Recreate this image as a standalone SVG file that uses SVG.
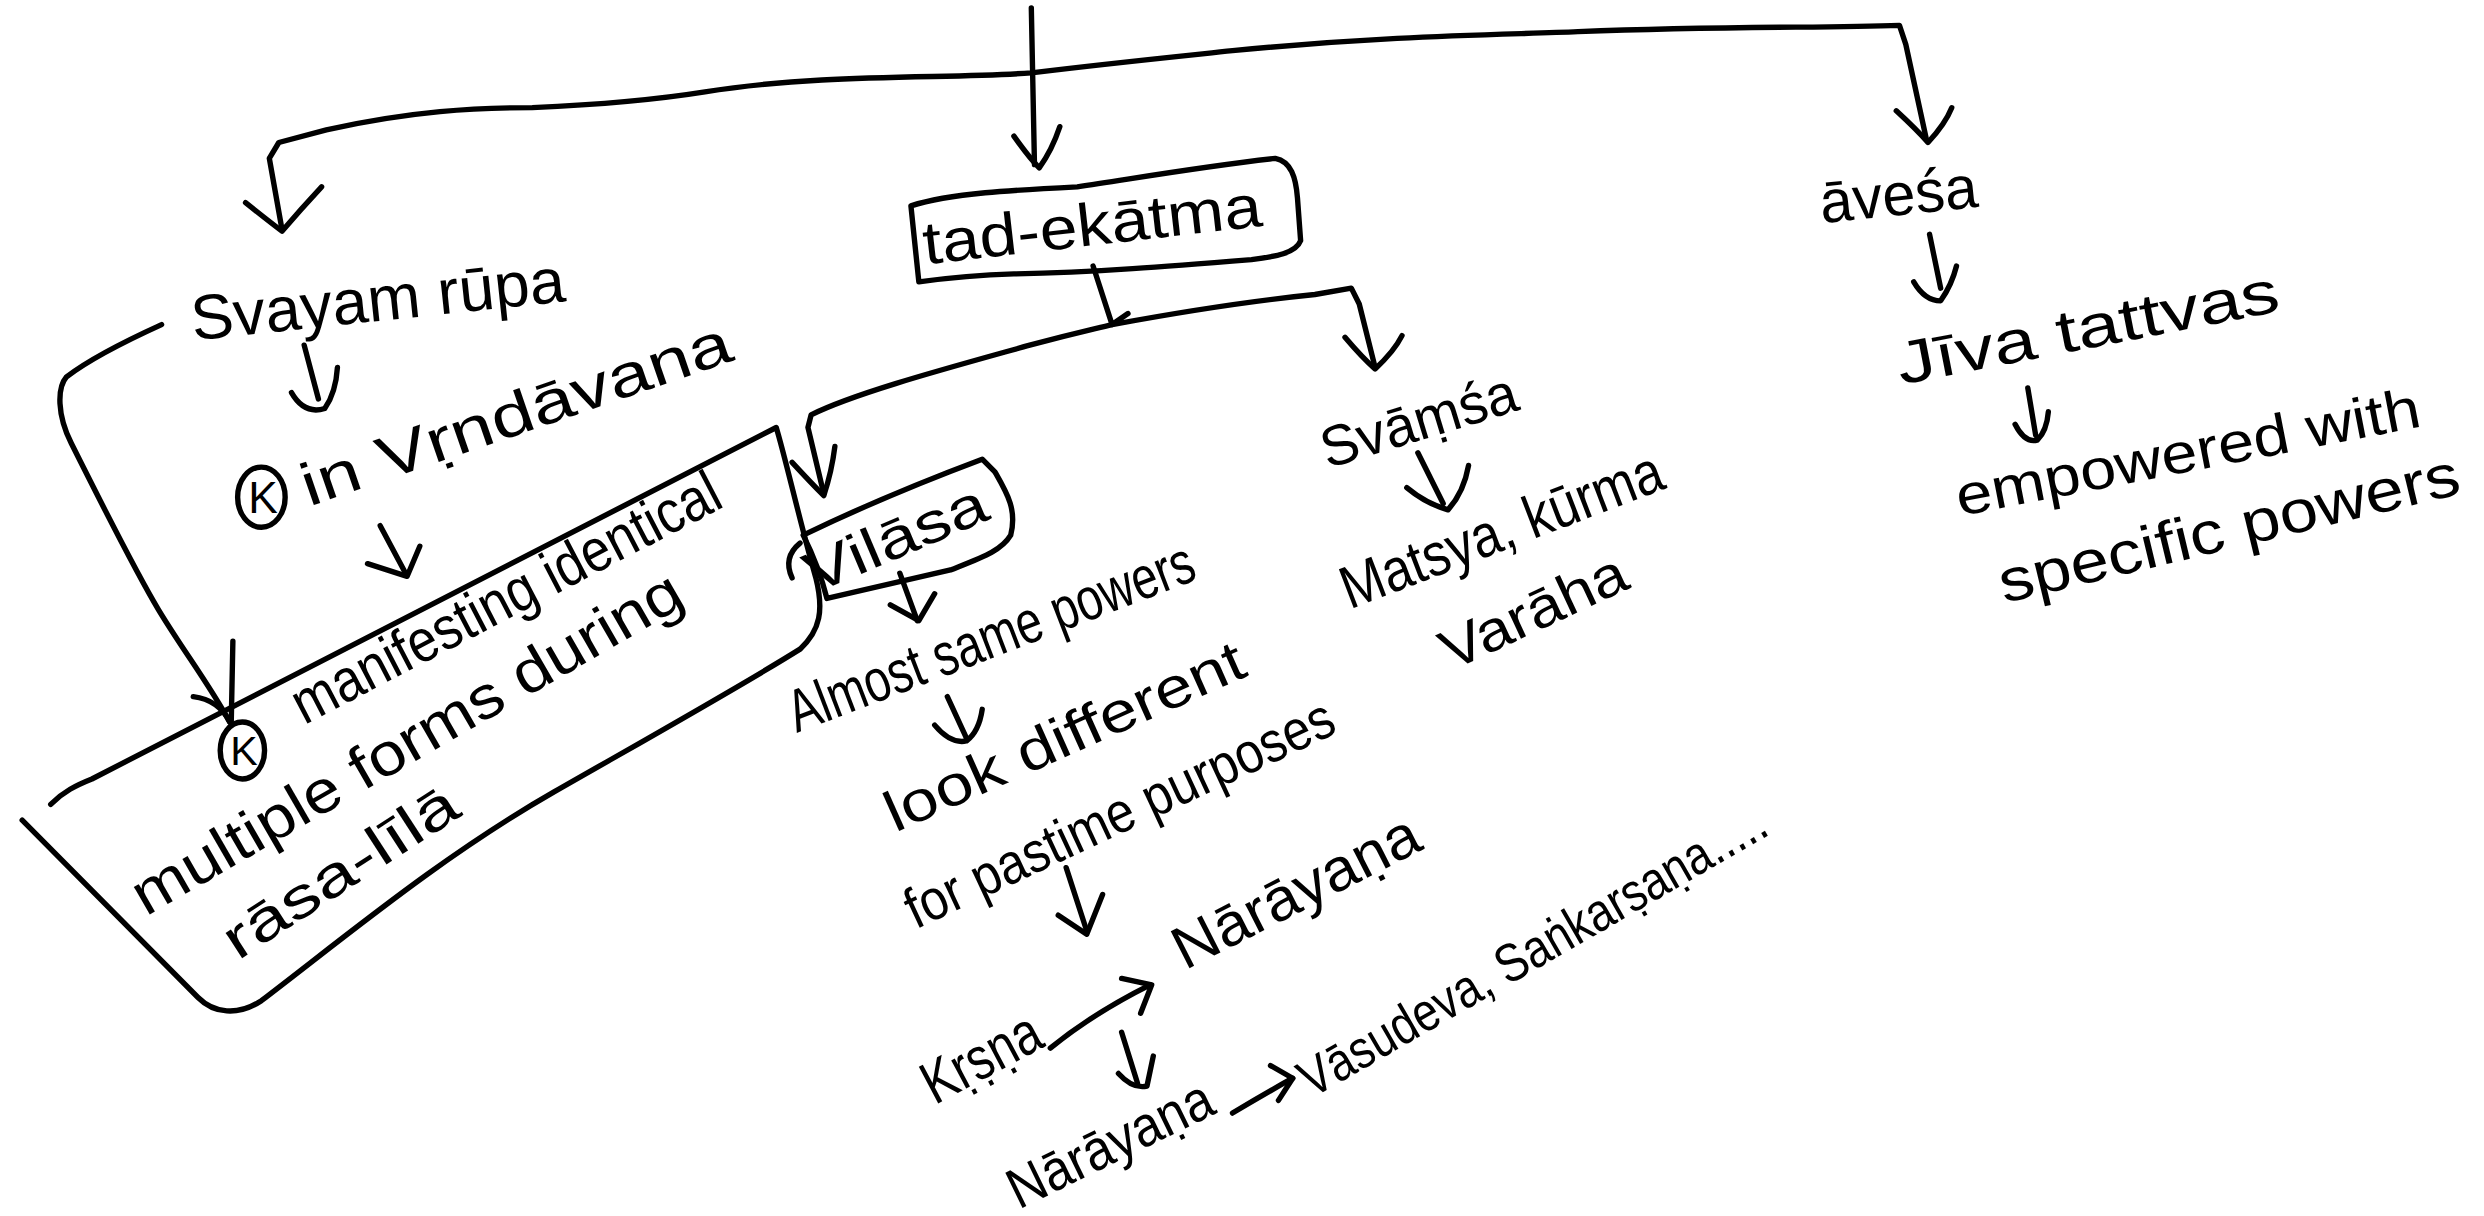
<svg xmlns="http://www.w3.org/2000/svg" width="2484" height="1216" viewBox="0 0 2484 1216">
<style>
.ln{fill:none;stroke:#000;stroke-width:3.4;stroke-linecap:round;stroke-linejoin:round}
.tx{font-family:"Liberation Sans","DejaVu Sans",sans-serif;fill:#000}
</style>
<rect width="2484" height="1216" fill="#fff"/>
<g transform="scale(1.5842,1.5833)">
<g id="connectors">
  <path class="ln" d="M651,5 L653,104"/>
  <path class="ln" d="M640,86 Q650,100 656,106 Q664,95 669,80"/>
  <path class="ln" d="M178,145 L170,100 L176,90 L206,82 C260,70 300,68 336,68 C380,66 420,62 445,58 C520,46 600,50 651,46 C700,40 740,36 778,32 C880,22 950,22 996,20 C1100,16 1150,18 1199,16 L1203,28 L1216,88"/>
  <path class="ln" d="M155,128 Q170,140 178,146 Q190,132 203,118"/>
  <path class="ln" d="M1197,70 Q1210,82 1217,90 Q1228,78 1232,68"/>
  <path class="ln" d="M192,218 L201,252"/>
  <path class="ln" d="M184,248 Q192,262 205,258 Q212,248 213,232"/>
  <path class="ln" d="M240,332 L256,362"/>
  <path class="ln" d="M232,356 L257,364 L265,345"/>
  <path class="ln" d="M102,205 C80,215 55,228 42,238 C36,245 36,262 45,280 C60,310 85,360 100,385 C115,410 132,432 145,456"/>
  <path class="ln" d="M147,405 L146,455"/>
  <path class="ln" d="M122,440 Q138,442 145,456"/>
  <path class="ln" d="M690,168 L702,205 L712,198"/>
  <path class="ln" d="M520,312 L510,270 L512,262 C540,248 600,232 650,218 C680,210 690,208 702,205 C740,198 790,190 830,186 L853,182 L858,192 L868,232"/>
  <path class="ln" d="M500,292 Q512,305 520,313 Q525,298 527,282"/>
  <path class="ln" d="M849,213 Q860,226 868,233 Q880,222 885,212"/>
  <path class="ln" d="M568,362 L579,392"/>
  <path class="ln" d="M562,382 L580,392 L590,375"/>
  <path class="ln" d="M598,440 L610,466"/>
  <path class="ln" d="M590,458 Q600,470 610,468 Q618,462 620,448"/>
  <path class="ln" d="M673,548 L686,588"/>
  <path class="ln" d="M668,578 L686,590 L696,565"/>
  <path class="ln" d="M663,662 Q690,640 726,622"/>
  <path class="ln" d="M708,618 L727,622 L720,640"/>
  <path class="ln" d="M708,652 L718,684"/>
  <path class="ln" d="M706,678 Q715,688 724,686 L728,667"/>
  <path class="ln" d="M778,703 Q798,691 816,681"/>
  <path class="ln" d="M802,673 L816,681 L807,695"/>
  <path class="ln" d="M895,286 L911,318"/>
  <path class="ln" d="M888,308 Q900,318 914,322 Q924,311 927,294"/>
  <path class="ln" d="M1218,148 L1225,182"/>
  <path class="ln" d="M1208,178 Q1215,190 1225,190 Q1232,180 1235,168"/>
  <path class="ln" d="M1280,245 L1285,275"/>
  <path class="ln" d="M1272,268 Q1278,280 1286,278 Q1292,272 1293,260"/>
</g>
<g id="node-svayam-rupa">
  <text class="tx" font-size="40" transform="translate(122,215) rotate(-6)" textLength="237" lengthAdjust="spacingAndGlyphs">Svayam rūpa</text>
</g>
<g id="node-k-vrndavana">
  <ellipse class="ln" cx="165" cy="314" rx="15" ry="19"/>
  <text class="tx" font-size="28" x="166" y="324" text-anchor="middle">K</text>
  <text class="tx" font-size="38" transform="translate(195,320) rotate(-19)" textLength="285" lengthAdjust="spacingAndGlyphs">in Vṛndāvana</text>
</g>
<g id="node-rasa-lila">
  <path class="ln" d="M32,508 C40,500 48,496 58,492 L490,270 C496,290 505,330 515,365 C520,385 518,398 505,410 C470,432 420,460 350,500 C280,540 220,590 165,632 C150,642 135,640 125,630 L14,518"/>
  <ellipse class="ln" cx="153" cy="474" rx="14" ry="18"/>
  <text class="tx" font-size="26" x="154" y="483" text-anchor="middle">K</text>
  <text class="tx" font-size="38" transform="translate(192,458) rotate(-27.5)" textLength="300" lengthAdjust="spacingAndGlyphs">manifesting identical</text>
  <text class="tx" font-size="38" transform="translate(92,579) rotate(-30)" textLength="395" lengthAdjust="spacingAndGlyphs">multiple forms during</text>
  <text class="tx" font-size="36" transform="translate(150,607) rotate(-33)" textLength="170" lengthAdjust="spacingAndGlyphs">rāsa-līlā</text>
</g>
<g id="node-tad-ekatma">
  <path class="ln" d="M575,130 C600,122 640,120 680,118 C720,112 760,105 805,100 C815,102 818,112 819,125 L821,152 C818,160 805,162 790,164 C740,168 690,172 640,173 C610,174 595,176 580,178 Z"/>
  <text class="tx" font-size="38" transform="translate(584,167) rotate(-6.5)" textLength="215" lengthAdjust="spacingAndGlyphs">tad-ekātma</text>
</g>
<g id="node-vilasa">
  <path class="ln" d="M507,338 C540,322 580,305 620,290 L628,298 C636,312 642,322 638,338 C632,348 620,352 600,360 L522,378 C518,362 512,348 507,338 Z"/>
  <path class="ln" d="M500,365 Q494,352 505,343"/>
  <text class="tx" font-size="36" transform="translate(514,375) rotate(-23)" textLength="122" lengthAdjust="spacingAndGlyphs">Vilāsa</text>
</g>
<g id="node-almost-same">
  <text class="tx" font-size="38" transform="translate(503,463) rotate(-21)" textLength="272" lengthAdjust="spacingAndGlyphs">Almost same powers</text>
</g>
<g id="node-look-different">
  <text class="tx" font-size="36" transform="translate(565,526) rotate(-24)" textLength="245" lengthAdjust="spacingAndGlyphs">look different</text>
</g>
<g id="node-pastime">
  <text class="tx" font-size="36" transform="translate(578,587) rotate(-25)" textLength="295" lengthAdjust="spacingAndGlyphs">for pastime purposes</text>
</g>
<g id="node-krsna">
  <text class="tx" font-size="38" transform="translate(590,698) rotate(-28)" textLength="80" lengthAdjust="spacingAndGlyphs">Kṛṣṇa</text>
</g>
<g id="node-narayana-1">
  <text class="tx" font-size="38" transform="translate(748,613) rotate(-27)" textLength="170" lengthAdjust="spacingAndGlyphs">Nārāyaṇa</text>
</g>
<g id="node-narayana-2">
  <text class="tx" font-size="36" transform="translate(643,764) rotate(-26)" textLength="140" lengthAdjust="spacingAndGlyphs">Nārāyaṇa</text>
</g>
<g id="node-vasudeva">
  <text class="tx" font-size="34" transform="translate(828,694) rotate(-30)" textLength="335" lengthAdjust="spacingAndGlyphs">Vāsudeva, Saṅkarṣaṇa.....</text>
</g>
<g id="node-svamsa">
  <text class="tx" font-size="36" transform="translate(838,296) rotate(-17)" textLength="128" lengthAdjust="spacingAndGlyphs">Svāṃśa</text>
</g>
<g id="node-matsya">
  <text class="tx" font-size="38" transform="translate(852,385) rotate(-21)" textLength="215" lengthAdjust="spacingAndGlyphs">Matsya, kūrma</text>
</g>
<g id="node-varaha">
  <text class="tx" font-size="36" transform="translate(916,424) rotate(-25)" textLength="126" lengthAdjust="spacingAndGlyphs">Varāha</text>
</g>
<g id="node-avesa">
  <text class="tx" font-size="38" transform="translate(1150,141) rotate(-6)" textLength="100" lengthAdjust="spacingAndGlyphs">āveśa</text>
</g>
<g id="node-jiva">
  <text class="tx" font-size="38" transform="translate(1200,243) rotate(-11)" textLength="245" lengthAdjust="spacingAndGlyphs">Jīva tattvas</text>
</g>
<g id="node-empowered">
  <text class="tx" font-size="36" transform="translate(1237,326) rotate(-11)" textLength="298" lengthAdjust="spacingAndGlyphs">empowered with</text>
  <text class="tx" font-size="38" transform="translate(1265,381) rotate(-13.5)" textLength="298" lengthAdjust="spacingAndGlyphs">specific powers</text>
</g>
</g>
</svg>
